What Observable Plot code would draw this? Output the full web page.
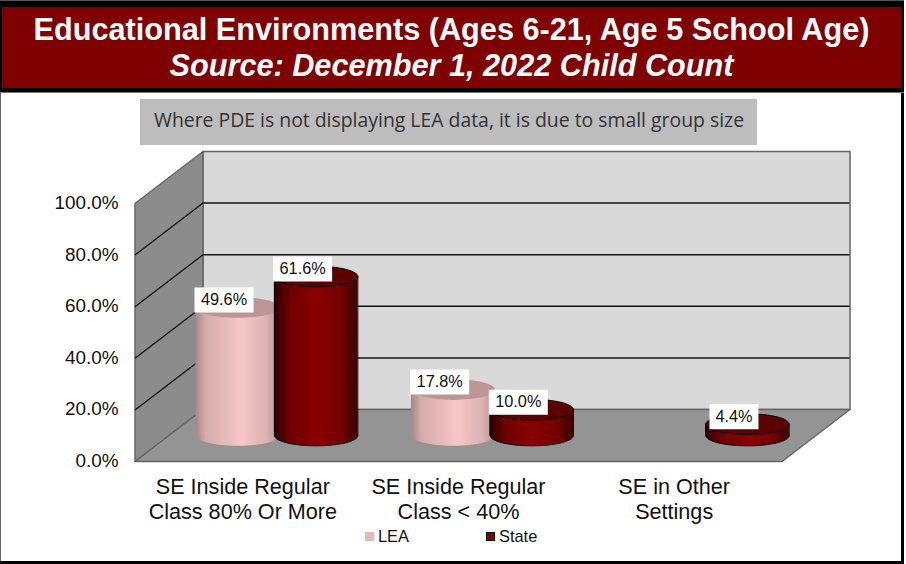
<!DOCTYPE html>
<html>
<head>
<meta charset="utf-8">
<script src="https://cdn.jsdelivr.net/npm/d3@7"></script>
<script src="https://cdn.jsdelivr.net/npm/@observablehq/plot@0.6"></script>
<style>
html,body{margin:0;padding:0;background:#fff;}
#page{position:relative;width:906px;height:564px;overflow:hidden;font-family:"Liberation Sans",Arial,sans-serif;background:#fff;}
#page>div{position:absolute;box-sizing:border-box;}
#topband{left:0;top:0;width:904px;height:93px;background:#000;border-top:1px solid #555;border-bottom:1px solid #777;}
#title{left:2px;top:7px;width:899px;height:81px;background:#7f0000;color:#fff;text-align:center;font-weight:bold;font-size:30.67px;line-height:36px;padding-top:4px;}
#title em{font-style:italic;}
#leftline{left:0;top:93px;width:1px;height:471px;background:#666;}
#rightline{left:901px;top:93px;width:3px;height:471px;background:#000;}
#bottomline{left:0;top:561px;width:904px;height:3px;background:#000;}
#note{left:140px;top:99px;width:617px;height:46px;background:#bdbdbd;color:#333;font-family:"Open Sans",sans-serif;font-size:19.4px;line-height:41px;padding-left:14px;white-space:nowrap;}
#chart{left:0;top:146px;width:906px;height:380px;}
#legend{left:0;top:526px;width:900px;height:22px;font-size:16.4px;color:#111;}
.sw{position:absolute;top:6px;width:9px;height:9px;box-sizing:border-box;}
.lb{position:absolute;top:0;line-height:20px;}
</style>
</head>
<body>
<div id="page">
  <div id="topband"></div>
  <div id="title">Educational Environments (Ages 6-21, Age 5 School Age)<br><em>Source: December 1, 2022 Child Count</em></div>
  <div id="note">Where PDE is not displaying LEA data, it is due to small group size</div>
  <div id="chart"></div>
  <div id="legend">
    <span class="sw" style="left:365px;background:#e6b8b8"></span><span class="lb" style="left:378px">LEA</span>
    <span class="sw" style="left:486px;background:#7f0000;border:1.5px solid #000"></span><span class="lb" style="left:499px">State</span>
  </div>
  <div id="leftline"></div>
  <div id="rightline"></div>
  <div id="bottomline"></div>
</div>
<script>
// Data
const categories = ["SE Inside Regular\nClass 80% Or More", "SE Inside Regular\nClass < 40%", "SE in Other\nSettings"];
const leaValues = [49.6, 17.8, null];
const stateValues = [61.6, 10.0, 4.4];
const yTicks = [0, 20, 40, 60, 80, 100];

// Fake-3D projection, in data units
const unitX = 647 / 3, unitY = 2.58;
const depthX = 68 / unitX, depthY = 52 / unitY;
const proj = (x, y, d) => ({x: x + d * depthX, y: y + d * depthY});
const groupOffset = 39.3 / unitX;
const radius = 41.7 / unitX;
const midDepth = 0.5;

const rows = (values, s) => values.map((value, i) => ({
  value, series: s, cx: i + 0.5 + (s === "LEA" ? -groupOffset : groupOffset)
})).filter(d => d.value != null);
const lea = rows(leaValues, "LEA");
const state = rows(stateValues, "State");
const fmt = d3.format(".1f");
const labelOf = d => fmt(d.value) + "%";
const baseY = midDepth * depthY;
const centerX = d => d.cx + midDepth * depthX;
const topY = d => d.value + baseY;

// Custom symbols
const ellipse = (rx, ry) => ({draw(c) {
  const k = 0.5523;
  c.moveTo(-rx, 0);
  c.bezierCurveTo(-rx, -ry * k, -rx * k, -ry, 0, -ry);
  c.bezierCurveTo(rx * k, -ry, rx, -ry * k, rx, 0);
  c.bezierCurveTo(rx, ry * k, rx * k, ry, 0, ry);
  c.bezierCurveTo(-rx * k, ry, -rx, ry * k, -rx, 0);
  c.closePath();
}});
const box = (w, h) => ({draw(c) {
  c.moveTo(-w / 2, -h / 2); c.lineTo(w / 2, -h / 2); c.lineTo(w / 2, h / 2); c.lineTo(-w / 2, h / 2); c.closePath();
}});
const cylEllipse = ellipse(41.7, 10.3);

const defs = () => {
  const g = d3.create("svg:defs");
  g.html(`
  <linearGradient id="gLea" x1="0" x2="1" y1="0" y2="0">
    <stop offset="0" stop-color="#a98585"/><stop offset="0.12" stop-color="#d5abab"/>
    <stop offset="0.55" stop-color="#f6c7c7"/><stop offset="0.85" stop-color="#dcb2b2"/><stop offset="1" stop-color="#b89292"/>
  </linearGradient>
  <linearGradient id="gState" x1="0" x2="1" y1="0" y2="0">
    <stop offset="0" stop-color="#2e0000"/><stop offset="0.2" stop-color="#700000"/>
    <stop offset="0.5" stop-color="#8a0000"/><stop offset="0.8" stop-color="#750000"/><stop offset="1" stop-color="#3a0000"/>
  </linearGradient>`);
  return g.node();
};

const poly = (pts, fill) => Plot.line(pts, {x: "x", y: "y", fill, stroke: "#666", strokeWidth: 1.5, curve: "linear-closed"});

const cylinder = (data, grad, topFill, stroke) => [
  Plot.dot(data, {x: centerX, y: () => baseY, symbol: cylEllipse, fill: `url(#${grad})`, stroke, strokeWidth: 1}),
  Plot.rect(data, {x1: d => centerX(d) - radius, x2: d => centerX(d) + radius, y1: () => baseY, y2: topY, fill: `url(#${grad})`}),
  stroke === "none" ? null : Plot.ruleX(data, {x: d => centerX(d) - radius, y1: () => baseY, y2: topY, stroke, strokeWidth: 1}),
  stroke === "none" ? null : Plot.ruleX(data, {x: d => centerX(d) + radius, y1: () => baseY, y2: topY, stroke, strokeWidth: 1}),
  Plot.dot(data, {x: centerX, y: topY, symbol: cylEllipse, fill: topFill, stroke, strokeWidth: 1})
];

const all = [...lea, ...state];
const labelX = d => centerX(d) - 13.5 / unitX;
const labelY = d => topY(d) + 7.5 / unitY;

const plot = Plot.plot({
  width: 906, height: 380,
  marginLeft: 134.5, marginRight: 124.5, marginTop: 57, marginBottom: 65,
  style: {fontFamily: '"Liberation Sans", Arial, sans-serif', overflow: "visible", background: "transparent", color: "#111"},
  x: {type: "linear", domain: [0, 3]},
  y: {type: "linear", domain: [0, 100]},
  marks: [
    defs,
    // walls and floor
    poly([proj(0, 0, 1), proj(3, 0, 1), proj(3, 100, 1), proj(0, 100, 1)], "#d9d9d9"),
    poly([proj(0, 0, 0), proj(0, 0, 1), proj(0, 100, 1), proj(0, 100, 0)], "#8c8c8c"),
    poly([proj(0, 0, 0), proj(3, 0, 0), proj(3, 0, 1), proj(0, 0, 1)], "#949494"),
    // gridlines on the back and left walls
    Plot.ruleY(yTicks.slice(1, 5), {x1: depthX, x2: 3 + depthX, y: d => d + depthY, stroke: "#111", strokeWidth: 1.5}),
    Plot.link(yTicks.slice(1, 5), {x1: 0, y1: d => d, x2: depthX, y2: d => d + depthY, stroke: "#111", strokeWidth: 1.3}),
    // cylinders
    ...cylinder(lea, "gLea", "#bd9595", "none"),
    ...cylinder(state, "gState", "#5c0000", "#000"),
    // value labels
    Plot.dot(all.filter(d => labelOf(d).length > 4), {x: labelX, y: labelY, symbol: box(59, 25), fill: "#fff"}),
    Plot.dot(all.filter(d => labelOf(d).length <= 4), {x: labelX, y: labelY, symbol: box(49, 25), fill: "#fff"}),
    Plot.text(all, {x: labelX, y: labelY, text: labelOf, fontSize: 16.3, fill: "#111"}),
    // axes
    Plot.axisY({ticks: yTicks, tickSize: 0, tickPadding: 16.5, dy: -0.5, label: null, fontSize: 18.9, tickFormat: d => fmt(d) + "%"}),
    Plot.axisX({ticks: [0.5, 1.5, 2.5], tickSize: 0, tickPadding: 15, label: null, fontSize: 21.6, lineHeight: 1.157, tickFormat: d => categories[Math.floor(d)]})
  ]
});
document.getElementById("chart").appendChild(plot);
</script>
</body>
</html>
